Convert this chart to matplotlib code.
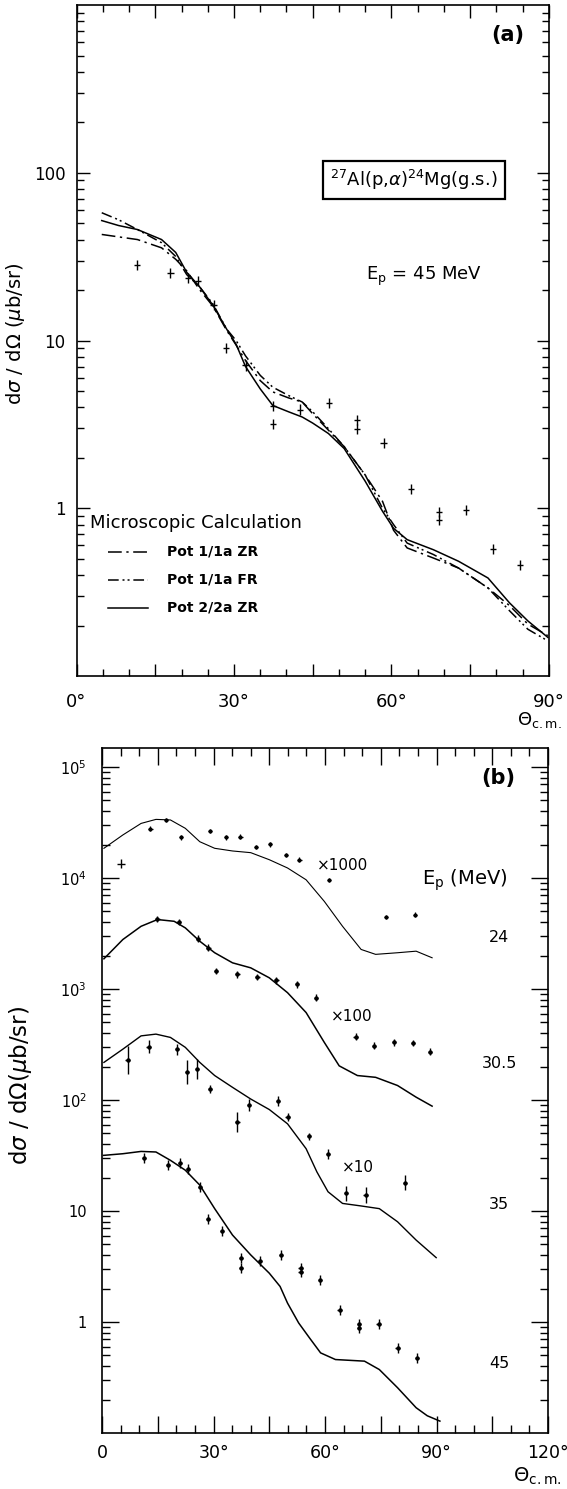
import matplotlib.pyplot as plt
import numpy as np
from matplotlib.ticker import FixedLocator, NullFormatter, FixedFormatter

# ---------------- panel (a) : 27Al(p,a)24Mg(g.s.), Ep = 45 MeV
exp_ang_a = [11.5, 17.9, 21.2, 23.2, 26.1, 28.5, 32.2, 37.4, 37.4, 42.6,
             48.1, 53.4, 53.4, 58.5, 63.7, 69.0, 69.0, 74.2, 79.3, 84.5]
exp_sig_a = [28.2, 25.4, 23.7, 22.6, 16.2, 9.0, 7.1, 4.07, 3.16, 3.88,
             4.26, 3.34, 2.98, 2.46, 1.31, 0.95, 0.85, 0.98, 0.57, 0.457]

calc_ang_a = [4.8, 8, 11.6, 16.2, 18.9, 21, 23.4, 26, 28.6, 30.4, 32.2, 35, 37.4, 40.4,
              43, 45, 48, 51, 55, 58.3, 60.4, 63, 68, 72.8, 78.4, 82.5, 86, 89.8]
pot1_zr = [42.9, 41.5, 40, 35.7, 30.5, 26, 20.2, 16, 11.5, 9.4, 7.6, 5.77, 4.94, 4.55,
           4.3, 3.66, 2.92, 2.33, 1.58, 1.1, 0.74, 0.58, 0.505, 0.44, 0.335, 0.263, 0.204, 0.174]
pot1_fr = [57.8, 52.5, 45.9, 38.3, 31.7, 24.7, 21, 16.5, 11.7, 10, 8.1, 6.2, 5.27, 4.7,
           4.3, 3.76, 2.98, 2.33, 1.58, 1.0, 0.8, 0.62, 0.53, 0.44, 0.335, 0.245, 0.19, 0.162]
pot2_zr = [51.9, 48.5, 45.9, 40, 33.5, 25.5, 21, 16.2, 11.7, 9.5, 7, 5.15, 4.1, 3.76,
           3.5, 3.22, 2.79, 2.27, 1.45, 0.96, 0.76, 0.65, 0.566, 0.483, 0.384, 0.273, 0.213, 0.17]

# ---------------- panel (b) : several proton energies (scaled)
ang_24 = [0.5, 5.6, 10.5, 14.5, 18.4, 22.4, 26.3, 30.3, 35.1, 40, 45, 49.9, 54.9, 59.8,
          64.7, 69.7, 73.6, 79.5, 84.5, 88.8]
calc_24 = [18500, 24400, 31000, 33700, 33300, 28000, 21200, 18500, 17500, 16900, 14600,
           12300, 9630, 6150, 3670, 2270, 2050, 2120, 2190, 1910]
exp_ang_24 = [5.1, 13, 17.2, 21.2, 29.1, 33.4, 37.2, 41.4, 45.2, 49.5, 53.1, 61, 76.4, 84.2]
exp_24 = [13400, 27800, 33300, 23200, 26500, 23200, 23600, 19100, 20100, 16100, 14600,
          9630, 4450, 4680]

ang_305 = [0.5, 5.6, 10.5, 14.9, 19.4, 22.4, 26.3, 30.3, 35.1, 40, 45, 49.9, 54.9, 59.8,
           63.8, 68.7, 73.6, 79.5, 84.5, 88.8]
calc_305 = [1870, 2790, 3670, 4220, 4070, 3550, 2690, 2120, 1720, 1550, 1260, 926, 613,
            330, 203, 166, 160, 135, 106, 88]
exp_ang_305 = [14.9, 20.6, 25.8, 28.6, 30.7, 36.4, 41.8, 46.9, 52.4, 57.6, 68.2, 73.1,
               78.5, 83.7, 88.3]
exp_305 = [4280, 4020, 2830, 2350, 1450, 1350, 1280, 1200, 1100, 835, 373, 308, 330, 325, 272]

ang_35 = [0.5, 5.6, 10.5, 14.5, 18.4, 22.4, 26.3, 30.3, 35.1, 40, 45, 49.9, 54.9, 57.8,
          60.8, 64.7, 69.7, 74.6, 79.5, 84.5, 89.9]
calc_35 = [218, 287, 378, 392, 366, 298, 218, 166, 130, 102, 82, 61, 36.4, 22.5, 14.9,
           11.7, 11.1, 10.5, 8.0, 5.47, 3.8]
exp_ang_35 = [6.9, 12.5, 20.2, 22.9, 25.6, 29.1, 36.4, 39.6, 47.3, 49.9, 55.7, 60.8,
              65.7, 70.9, 81.5]
exp_35 = [230, 303, 287, 178, 190, 126, 63, 90, 98, 70, 47, 32.8, 14.4, 13.9, 18]
err_35 = [0.125, 0.06, 0.05, 0.11, 0.09, 0.035, 0.09, 0.055, 0.045, 0.035, 0.03, 0.045,
          0.07, 0.07, 0.07]   # in decades

ang_45 = [0.4, 5.6, 10.5, 14.5, 18.4, 22.4, 26.3, 30.3, 35.1, 40, 45, 47.9, 49.9, 52.9,
          55.8, 58.8, 62.8, 70.6, 74.6, 79.5, 84.5, 87.5, 90.9]
calc_45 = [31.7, 32.8, 34.4, 34, 28.6, 23.3, 17.1, 10.5, 6.07, 4.02, 2.75, 2.09, 1.48,
           0.98, 0.72, 0.527, 0.459, 0.444, 0.373, 0.256, 0.169, 0.143, 0.128]
exp_ang_45 = [11.3, 17.7, 21, 23.1, 26.3, 28.5, 32.2, 37.4, 37.4, 42.5, 48.2, 53.4, 53.4,
              58.6, 63.9, 69.2, 69.2, 74.4, 79.5, 84.7]
exp_45 = [30, 26.2, 27.1, 24.1, 16.5, 8.45, 6.64, 3.8, 3.05, 3.55, 4.02, 3.09, 2.81, 2.4,
          1.27, 0.96, 0.88, 0.96, 0.585, 0.475]

energies = ['24', '30.5', '35', '45']
scales = ['x1000', 'x100', 'x10']


def logerr(y, dex):
    y = np.asarray(y, float)
    dex = np.asarray(dex, float)
    return [y - y * 10 ** (-dex), y * 10 ** dex - y]


def log_minor(lo, hi):
    vals = []
    for e in range(lo, hi):
        for m in range(2, 10):
            vals.append(m * 10.0 ** e)
    return vals


plt.rcParams['font.family'] = 'DejaVu Sans'
fig = plt.figure(figsize=(5.67, 14.89), dpi=100)

# ======================= (a)
ax = fig.add_axes([0.135, 0.546, 0.833, 0.4506])
ax.set_yscale('log')
ax.set_xlim(0, 90)
ax.set_ylim(0.1, 1000)

ax.plot(calc_ang_a, pot1_zr, 'k', lw=1.1, dashes=(9, 3, 1.5, 3))
ax.plot(calc_ang_a, pot1_fr, 'k', lw=1.1, dashes=(7, 2.5, 1.3, 2, 1.3, 2.5))
ax.plot(calc_ang_a, pot2_zr, 'k', lw=1.1)
ax.errorbar(exp_ang_a, exp_sig_a, yerr=logerr(exp_sig_a, 0.03), xerr=0.6,
            fmt='none', ecolor='k', elinewidth=1.0)

ax.yaxis.set_major_locator(FixedLocator([1, 10, 100]))
ax.yaxis.set_major_formatter(FixedFormatter(['1', '10', '100']))
ax.yaxis.set_minor_locator(FixedLocator(log_minor(-1, 3)))
ax.yaxis.set_minor_formatter(NullFormatter())
ax.xaxis.set_major_locator(FixedLocator([0, 15, 30, 45, 60, 75, 90]))
ax.xaxis.set_major_formatter(FixedFormatter(['0°', '', '30°', '', '60°', '', '90°']))
ax.xaxis.set_minor_locator(FixedLocator(list(range(0, 91, 5))))
ax.tick_params(which='both', direction='in', top=True, right=True, width=1)
ax.tick_params(which='major', length=9, labelsize=12)
ax.tick_params(which='minor', length=5)
ax.tick_params(axis='y', which='major', pad=8)
ax.tick_params(axis='x', which='major', labelsize=13, pad=12)
for s in ax.spines.values():
    s.set_linewidth(1.2)

ax.text(0.913, 0.955, '(a)', transform=ax.transAxes, fontsize=15,
        fontweight='bold', ha='center', va='center')
ax.text(0.714, 0.739, r'$^{27}$Al(p,$\alpha$)$^{24}$Mg(g.s.)', transform=ax.transAxes,
        fontsize=13, ha='center', va='center',
        bbox=dict(boxstyle='square,pad=0.4', fc='white', ec='k', lw=1.6))
ax.text(0.612, 0.595, r'E$_{\rm p}$ = 45 MeV', transform=ax.transAxes,
        fontsize=13, ha='left', va='center')

ax.text(0.028, 0.228, 'Microscopic Calculation', transform=ax.transAxes,
        fontsize=13, ha='left', va='center')
leg_labels = ['Pot 1/1a ZR', 'Pot 1/1a FR', 'Pot 2/2a ZR']
leg_dashes = [(9, 3, 1.5, 3), (7, 2.5, 1.3, 2, 1.3, 2.5), None]
for i, (lab, d) in enumerate(zip(leg_labels, leg_dashes)):
    yy = 0.185 - i * 0.0415
    ln, = ax.plot([0.067, 0.151], [yy, yy], 'k', lw=1.1, transform=ax.transAxes)
    if d is not None:
        ln.set_dashes(d)
    ax.text(0.191, yy, lab, transform=ax.transAxes, fontsize=10,
            fontweight='bold', ha='left', va='center')

fig.text(0.028, 0.776, r'd$\sigma$ / d$\Omega$ ($\mu$b/sr)', rotation=90,
         fontsize=14, ha='center', va='center')
fig.text(0.952, 0.5164, r'$\Theta_{\rm c.m.}$', fontsize=13, ha='center', va='center')

# ======================= (b)
bx = fig.add_axes([0.180, 0.0376, 0.7866, 0.46])
bx.set_yscale('log')
bx.set_xlim(0, 120)
bx.set_ylim(0.1, 10 ** 5.17)

bx.plot(ang_24, calc_24, 'k', lw=0.8)
bx.plot(ang_305, calc_305, 'k', lw=1.1)
bx.plot(ang_35, calc_35, 'k', lw=1.0)
bx.plot(ang_45, calc_45, 'k', lw=1.1)

bx.errorbar(exp_ang_24[:1], exp_24[:1], yerr=logerr(exp_24[:1], 0.04), xerr=1.0,
            fmt='none', ecolor='k', elinewidth=1.0)
bx.errorbar(exp_ang_24[1:], exp_24[1:], yerr=logerr(exp_24[1:], 0.02), xerr=0.6,
            fmt='o', ms=2, color='k', ecolor='k', elinewidth=0.9)
bx.errorbar(exp_ang_305, exp_305, yerr=logerr(exp_305, 0.03), xerr=0.6,
            fmt='o', ms=2.2, color='k', ecolor='k', elinewidth=1.0)
bx.errorbar(exp_ang_35, exp_35, yerr=logerr(exp_35, err_35), xerr=0.6,
            fmt='o', ms=2.2, color='k', ecolor='k', elinewidth=1.0)
bx.errorbar(exp_ang_45, exp_45, yerr=logerr(exp_45, 0.045), xerr=0.6,
            fmt='o', ms=2.2, color='k', ecolor='k', elinewidth=1.0)

bx.yaxis.set_major_locator(FixedLocator([1, 10, 100, 1e3, 1e4, 1e5]))
bx.yaxis.set_major_formatter(FixedFormatter(['1', '10', r'10$^2$', r'10$^3$',
                                             r'10$^4$', r'10$^5$']))
bx.yaxis.set_minor_locator(FixedLocator(log_minor(-1, 5)))
bx.yaxis.set_minor_formatter(NullFormatter())
bx.xaxis.set_major_locator(FixedLocator(list(range(0, 121, 15))))
bx.xaxis.set_major_formatter(FixedFormatter(['0', '', '30°', '', '60°', '', '90°', '', '120°']))
bx.xaxis.set_minor_locator(FixedLocator(list(range(0, 121, 5))))
bx.tick_params(which='both', direction='in', top=True, right=True, width=1)
bx.tick_params(which='major', length=12, labelsize=10.5)
bx.tick_params(which='minor', length=6)
bx.tick_params(axis='y', which='major', pad=11)
bx.tick_params(axis='x', which='major', labelsize=12.5, pad=8)
for s in bx.spines.values():
    s.set_linewidth(1.2)

bx.text(0.888, 0.956, '(b)', transform=bx.transAxes, fontsize=15,
        fontweight='bold', ha='center', va='center')
bx.text(0.717, 0.807, r'E$_{\rm p}$ (MeV)', transform=bx.transAxes, fontsize=14,
        ha='left', va='center')
for lab, yy in zip(energies, [0.723, 0.54, 0.333, 0.102]):
    bx.text(0.89, yy, lab, transform=bx.transAxes, fontsize=11.5, ha='center', va='center')
for lab, xx, yy in zip(scales, [0.481, 0.513, 0.538], [0.829, 0.608, 0.387]):
    bx.text(xx, yy, lab.replace('x', '×'), transform=bx.transAxes, fontsize=11,
            ha='left', va='center')

fig.text(0.037, 0.271, r'd$\sigma$ / d$\Omega$($\mu$b/sr)', rotation=90,
         fontsize=16.5, ha='center', va='center')
fig.text(0.947, 0.0085, r'$\Theta_{\rm c.m.}$', fontsize=14, ha='center', va='center')

fig.savefig('out.png', dpi=100)
